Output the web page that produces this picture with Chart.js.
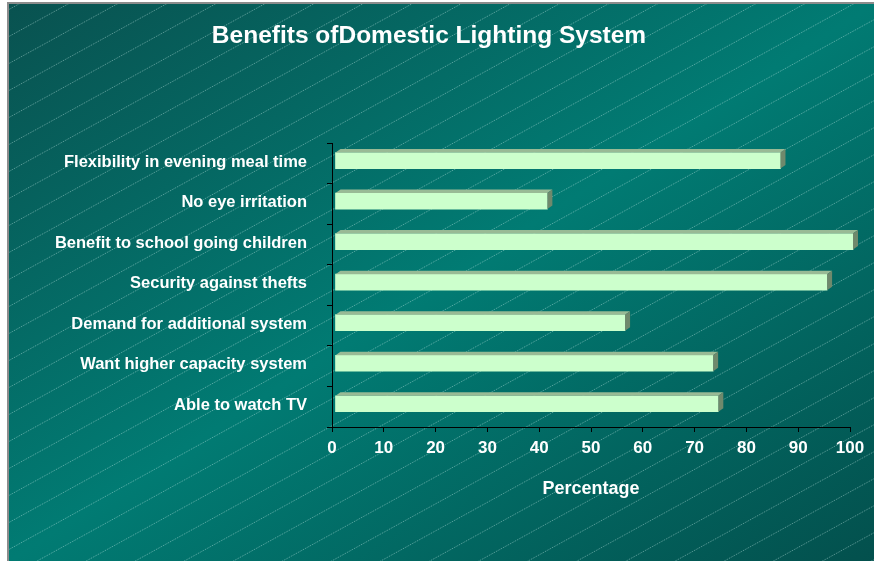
<!DOCTYPE html>
<html>
<head>
<meta charset="utf-8">
<title>Benefits of Domestic Lighting System</title>
<script src="https://cdn.jsdelivr.net/npm/chart.js@4.4.1/dist/chart.umd.min.js"></script>
<style>
  html, body { margin: 0; padding: 0; background: #fff; }
  canvas { display: block; }
</style>
</head>
<body>
<canvas id="myChart" width="874" height="561"></canvas>
<script>
// data
const categories = [
    'Flexibility in evening meal time',
    'No eye irritation',
    'Benefit to school going children',
    'Security against thefts',
    'Demand for additional system',
    'Want higher capacity system',
    'Able to watch TV'
];
const percentages = [86, 41, 100, 95, 56, 73, 74];
const percentTicks = [0, 10, 20, 30, 40, 50, 60, 70, 80, 90, 100];

Chart.defaults.font.family = '"Liberation Sans", Arial, sans-serif';

// teal slide background with the dotted diagonal hatch
const backdrop = {
    id: 'backdrop',
    beforeDraw(chart) {
        const {ctx, width, height} = chart;
        ctx.save();
        ctx.fillStyle = '#fff';
        ctx.fillRect(0, 0, width, height);
        ctx.fillStyle = '#8c8c8c';
        ctx.fillRect(7, 2, width - 7, height - 2);

        const w = width - 9, h = height - 4;
        ctx.save();
        ctx.translate(9, 4);
        ctx.scale(w, h);
        const g = ctx.createLinearGradient(0, 0, 1, 1);
        g.addColorStop(0, '#095250');
        g.addColorStop(0.5, '#017b73');
        g.addColorStop(1, '#03504d');
        ctx.fillStyle = g;
        ctx.fillRect(0, 0, 1, 1);
        ctx.restore();

        ctx.beginPath();
        ctx.rect(9, 4, w, h);
        ctx.clip();
        ctx.strokeStyle = 'rgba(210,245,240,0.45)';
        ctx.lineWidth = 1;
        ctx.setLineDash([1, 1]);
        const slope = 0.55, gap = 27;
        for (let b = 419.4 % gap; b < height + slope * width + gap; b += gap) {
            ctx.beginPath();
            ctx.moveTo(0, b);
            ctx.lineTo(width, b - slope * width);
            ctx.stroke();
        }
        ctx.restore();
    }
};

// fake 3D: front face shifted a bit, then top and side faces
const bars3d = {
    id: 'bars3d',
    beforeDatasetsDraw(chart) {
        chart.ctx.save();
        chart.ctx.translate(3, -3);
    },
    afterDatasetsDraw(chart) {
        const ctx = chart.ctx;
        const dx = 5, dy = 3.5;
        chart.getDatasetMeta(0).data.forEach(bar => {
            const {x, y, base, height} = bar.getProps(['x', 'y', 'base', 'height'], true);
            const top = y - height / 2, bottom = y + height / 2;
            ctx.fillStyle = '#99ba95';
            ctx.beginPath();
            ctx.moveTo(base, top);
            ctx.lineTo(x, top);
            ctx.lineTo(x + dx, top - dy);
            ctx.lineTo(base + dx, top - dy);
            ctx.closePath();
            ctx.fill();
            ctx.fillStyle = '#6f896c';
            ctx.beginPath();
            ctx.moveTo(x, top);
            ctx.lineTo(x + dx, top - dy);
            ctx.lineTo(x + dx, bottom - dy);
            ctx.lineTo(x, bottom);
            ctx.closePath();
            ctx.fill();
        });
        ctx.restore();
    }
};

new Chart(document.getElementById('myChart'), {
    type: 'bar',
    data: {
        labels: categories,
        datasets: [{
            data: percentages,
            backgroundColor: '#ccffcc',
            borderWidth: 0,
            barThickness: 16,
            clip: false
        }]
    },
    plugins: [backdrop, bars3d],
    options: {
        indexAxis: 'y',
        responsive: false,
        animation: false,
        layout: { padding: { left: 8, right: 24, top: 0, bottom: 0 } },
        plugins: {
            legend: { display: false },
            tooltip: { enabled: false },
            title: {
                display: true,
                text: 'Benefits ofDomestic Lighting System',
                color: '#fff',
                font: { size: 24.5, weight: 'bold' },
                padding: { top: 21.5, bottom: 92.4 }
            }
        },
        scales: {
            x: {
                min: percentTicks[0],
                max: percentTicks[percentTicks.length - 1],
                ticks: {
                    stepSize: percentTicks[1] - percentTicks[0],
                    color: '#fff',
                    font: { size: 17, weight: 'bold' },
                    padding: 6
                },
                grid: { drawOnChartArea: false, tickLength: 5, tickColor: '#000' },
                border: { color: '#000', width: 1 },
                title: {
                    display: true,
                    text: 'Percentage',
                    color: '#fff',
                    font: { size: 18, weight: 'bold' },
                    padding: { top: 0, bottom: 61 }
                },
                afterFit(scale) { scale.height = 134; }
            },
            y: {
                ticks: {
                    color: '#fff',
                    font: { size: 16.5, weight: 'bold' },
                    padding: 20,
                    labelOffset: -1.5
                },
                grid: { drawOnChartArea: false, tickLength: 5, tickColor: '#000' },
                border: { color: '#000', width: 1 },
                afterFit(scale) { scale.width = 324; }
            }
        }
    }
});
</script>
</body>
</html>
